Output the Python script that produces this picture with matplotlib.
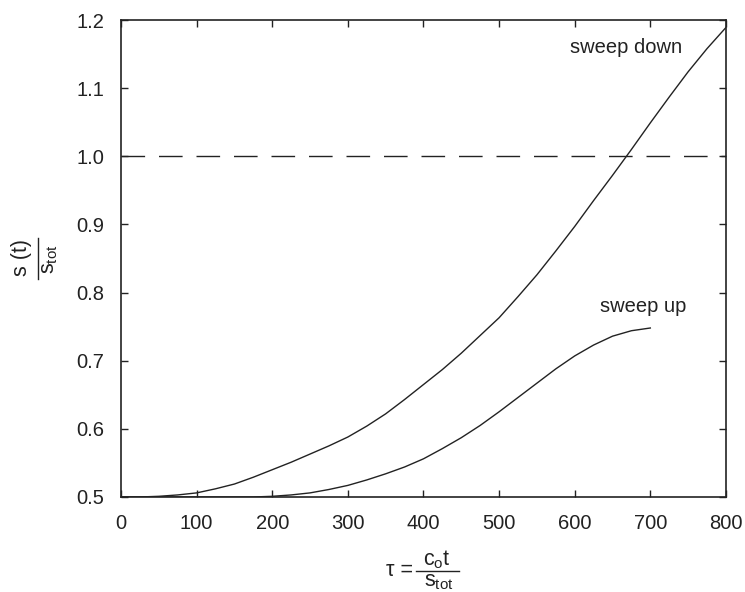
import numpy as np
import matplotlib.pyplot as plt
from matplotlib.lines import Line2D

plt.rcParams['font.family'] = ['Liberation Sans', 'DejaVu Sans']
plt.rcParams['mathtext.fontset'] = 'custom'
plt.rcParams['mathtext.rm'] = 'Liberation Sans'
plt.rcParams['mathtext.it'] = 'Liberation Sans'
plt.rcParams['mathtext.bf'] = 'Liberation Sans:bold'

# values
tau_down = [0, 25, 50, 75, 100, 125, 150, 175, 200, 225, 250, 275, 300, 325, 350, 375,
            400, 425, 450, 475, 500, 525, 550, 575, 600, 625, 650, 675, 700, 725, 750,
            775, 800]
s_down = [0.5, 0.5, 0.501, 0.503, 0.506, 0.512, 0.519, 0.529, 0.540, 0.551, 0.563,
          0.575, 0.588, 0.604, 0.622, 0.643, 0.665, 0.687, 0.711, 0.737, 0.763, 0.794,
          0.826, 0.861, 0.897, 0.935, 0.972, 1.01, 1.049, 1.087, 1.124, 1.158, 1.189]
tau_up = [0, 25, 50, 75, 100, 125, 150, 175, 200, 225, 250, 275, 300, 325, 350, 375,
          400, 425, 450, 475, 500, 525, 550, 575, 600, 625, 650, 675, 700]
s_up = [0.5, 0.5, 0.5, 0.5, 0.5, 0.5, 0.5, 0.5, 0.501, 0.503, 0.506, 0.511, 0.517,
        0.525, 0.534, 0.544, 0.556, 0.571, 0.587, 0.605, 0.625, 0.646, 0.667, 0.688,
        0.707, 0.723, 0.736, 0.744, 0.748]
ref_level = 1.0

W, H = 745, 592
fig = plt.figure(figsize=(W / 100, H / 100), dpi=100)
ax = fig.add_axes([0.1624, 0.1605, 0.812, 0.8057])

col = '#222222'
ax.plot(tau_down, s_down, color=col, lw=1.0)
ax.plot(tau_up, s_up, color=col, lw=1.0)
ax.axhline(ref_level, color=col, lw=1.0, dashes=(17, 10))

ax.text(668, 1.159, 'sweep down', ha='center', va='center', fontsize=14.5, color=col)
ax.text(691, 0.779, 'sweep up', ha='center', va='center', fontsize=14.5, color=col)

ax.set_xlim(0, 800)
ax.set_ylim(0.5, 1.2)
ax.set_xticks(np.arange(0, 801, 100))
ax.set_yticks(np.arange(0.5, 1.21, 0.1))
ax.set_yticklabels(['%.1f' % v for v in np.arange(0.5, 1.21, 0.1)])
ax.tick_params(direction='in', top=True, right=True, length=5, width=1,
               labelsize=14.5, colors=col)
ax.tick_params(axis='x', pad=12)
ax.tick_params(axis='y', pad=12)
for sp in ax.spines.values():
    sp.set_linewidth(1.2)
    sp.set_color(col)


def fx(px):
    return px / W


def fy(py):
    return 1 - py / H


# x label: tau = c_o t / s_tot, drawn as a stacked fraction
fs = 15.5
fig.text(fx(399), fy(571), '\u03c4 =', ha='center', va='center', fontsize=fs, color=col)
fig.text(fx(437), fy(571), r'c$_\mathrm{o}$t', ha='center', va='bottom', fontsize=fs, color=col)
fig.text(fx(439), fy(571), r's$_\mathrm{tot}$', ha='center', va='top', fontsize=fs, color=col)
fig.add_artist(Line2D([fx(416), fx(459)], [fy(570.5), fy(570.5)], color=col, lw=1.0))

# y label: s (t) / s_tot, rotated
fig.text(fx(32), fy(258), 's (t)', ha='right', va='center', rotation=90, fontsize=fs, color=col)
fig.text(fx(39), fy(259), r's$_\mathrm{tot}$', ha='left', va='center', rotation=90,
         fontsize=fs, color=col)
fig.add_artist(Line2D([fx(37.5), fx(37.5)], [fy(238), fy(279)], color=col, lw=1.0))

fig.savefig('out.png', dpi=100)
